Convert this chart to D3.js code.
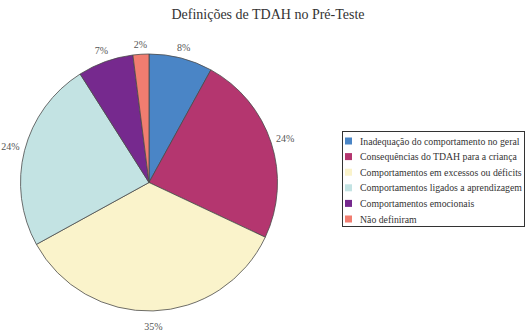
<!DOCTYPE html>
<html>
<head>
<meta charset="utf-8">
<script src="https://cdn.jsdelivr.net/npm/d3@7"></script>
<style>
  @font-face {
    font-family: "ChartSerif";
    src: local("Liberation Serif"), local("LiberationSerif"), local("LiberationSerif-Regular"), local("Times New Roman");
  }
</style>
</head>
<body style="margin:0">
<svg id="chart" width="528" height="331"></svg>
<script>
// Categories, shares (percent) and slice colours
const categories = [
  "Inadequação do comportamento no geral",
  "Consequências do TDAH para a criança",
  "Comportamentos em excessos ou déficits",
  "Comportamentos ligados a aprendizagem",
  "Comportamentos emocionais",
  "Não definiram"
];
const values = [8, 24, 35, 24, 7, 2];
const colors = ["#4a85c6", "#b4366f", "#faf3cb", "#c3e3e3", "#76298e", "#f17d70"];
const title = "Definições de TDAH no Pré-Teste";

const FONT = '"Liberation Serif", "Times New Roman", "ChartSerif", serif';
const svg = d3.select("#chart");

svg.append("text")
  .attr("x", 268).attr("y", 19)
  .attr("text-anchor", "middle")
  .attr("font-size", 14)
  .attr("font-family", FONT)
  .style("font-family", FONT)
  .attr("fill", "#333")
  .text(title);

const cx = 149, cy = 182.5, r = 128.5;
const g = svg.append("g").attr("transform", `translate(${cx},${cy})`);

const pie = d3.pie().sort(null).value(d => d)(values);
const arc = d3.arc().innerRadius(0).outerRadius(r);

g.selectAll("path.slice")
  .data(pie)
  .join("path")
  .attr("class", "slice")
  .attr("d", arc)
  .attr("fill", (d, i) => colors[i])
  .attr("stroke", "#4a4a4a")
  .attr("stroke-width", 0.8);

// Percentage labels just outside each slice, at its mid angle
const fmt = d => d3.format(".0f")(d) + "%";
g.selectAll("text.pct")
  .data(pie)
  .join("text")
  .attr("class", "pct")
  .attr("font-size", 10)
  .attr("font-family", FONT)
  .style("font-family", FONT)
  .attr("fill", "#555")
  .attr("text-anchor", "middle")
  .each(function (d) {
    const a = (d.startAngle + d.endAngle) / 2;
    const s = Math.sin(a), c = Math.cos(a);
    const dist = r + 5 + Math.abs(s) * 9 + Math.abs(c) * 4 + (c < -0.9 ? 6 : 0);
    d3.select(this)
      .attr("x", s * dist)
      .attr("y", -c * dist + 3.5)
      .text(fmt(d.data));
  });

// Legend
const lg = svg.append("g").attr("transform", "translate(342,131)");
lg.append("rect")
  .attr("x", 0.5).attr("y", 0.5)
  .attr("width", 182).attr("height", 95)
  .attr("fill", "#fff")
  .attr("stroke", "#333")
  .attr("stroke-width", 1);

const rows = lg.selectAll("g.row")
  .data(categories)
  .join("g")
  .attr("class", "row")
  .attr("transform", (d, i) => `translate(0,${10 + i * 15.6})`);

rows.append("rect")
  .attr("x", 3).attr("y", -3.5)
  .attr("width", 7).attr("height", 7)
  .attr("fill", (d, i) => colors[i]);

const labels = rows.append("text")
  .attr("x", 18).attr("y", 3.5)
  .attr("font-size", 10.5)
  .attr("font-family", FONT)
  .style("font-family", FONT)
  .attr("fill", "#333")
  .text(d => d);

// one shared size so the longest entry stays inside the frame
const maxText = 162;
const widest = d3.max(labels.nodes(), n => n.getComputedTextLength());
if (widest > maxText) labels.attr("font-size", +(10.5 * maxText / widest).toFixed(2));
</script>
</body>
</html>
